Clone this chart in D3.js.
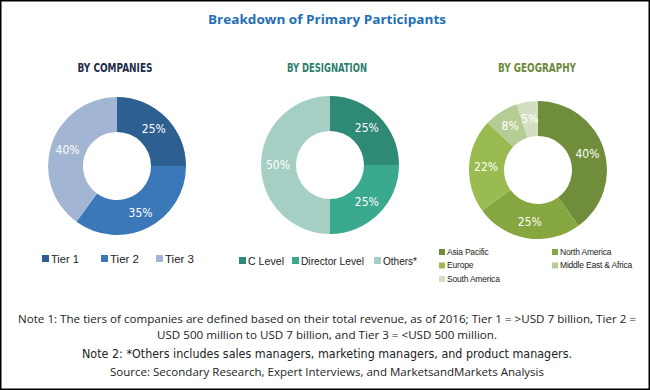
<!DOCTYPE html>
<html>
<head>
<meta charset="utf-8">
<script src="https://cdn.jsdelivr.net/npm/d3@7"></script>
<style>
  body { margin: 0; background: #fff; }
  svg { display: block; }
</style>
</head>
<body>
<div id="chart"></div>
<script>
// data
const companyLabels = ['Tier 1', 'Tier 2', 'Tier 3'];
const companyValues = [25, 35, 40];
const companyColors = ['#2e5f91', '#3a78ba', '#a2b6d4'];

const designationLabels = ['C Level', 'Director Level', 'Others*'];
const designationValues = [25, 25, 50];
const designationColors = ['#2e8a74', '#3aa98e', '#a5cfc4'];

const geoLabels = ['Asia Pacific', 'North America', 'Europe', 'Middle East & Africa', 'South America'];
const geoValues = [40, 25, 22, 8, 5];
const geoColors = ['#6f8d3a', '#86a640', '#9abb4f', '#b6cc95', '#d3dfc2'];

const notes = [
  'Note 1: The tiers of companies are defined based on their total revenue, as of 2016; Tier 1 = >USD 7 billion, Tier 2 =',
  'USD 500 million to USD 7 billion, and Tier 3 = <USD 500 million.'
];
const note2 = 'Note 2: *Others includes sales managers, marketing managers, and product managers.';
const source = 'Source: Secondary Research, Expert Interviews, and MarketsandMarkets Analysis';

const W = 650, H = 390;
const narrow = '"Liberation Sans Narrow", "DejaVu Sans Condensed", "Liberation Sans", sans-serif';
const svg = d3.select('#chart').append('svg').attr('width', W).attr('height', H);

svg.append('rect').attr('x', 0.75).attr('y', 0.75).attr('width', W - 1.5).attr('height', H - 1.5)
  .attr('fill', '#fff').attr('stroke', '#000').attr('stroke-width', 1.5);

svg.append('text').attr('x', 327).attr('y', 24).attr('text-anchor', 'middle')
  .attr('font-family', '"Open Sans", sans-serif').attr('font-weight', 'bold').attr('font-size', 13)
  .attr('textLength', 238).attr('lengthAdjust', 'spacingAndGlyphs')
  .attr('fill', '#1f6fb5').text('Breakdown of Primary Participants');

const pie = d3.pie().sort(null).value(d => d);
const arc = d3.arc().innerRadius(34).outerRadius(69);
const labelArc = d3.arc().innerRadius(52).outerRadius(52);

function donut(cx, cy, title, titleColor, titleX, titleW, values, colors) {
  svg.append('text').attr('x', titleX).attr('y', 72).attr('text-anchor', 'middle')
    .attr('font-family', narrow).attr('font-weight', 'bold').attr('font-size', 12.5)
    .attr('textLength', titleW).attr('lengthAdjust', 'spacingAndGlyphs')
    .attr('fill', titleColor).text(title);
  const g = svg.append('g').attr('transform', `translate(${cx},${cy})`);
  const arcs = pie(values);
  g.selectAll('path').data(arcs).join('path')
    .attr('d', arc).attr('fill', (d, i) => colors[i]);
  g.selectAll('text').data(arcs).join('text')
    .attr('transform', d => `translate(${labelArc.centroid(d)})`)
    .attr('text-anchor', 'middle').attr('dy', '0.35em')
    .attr('font-family', narrow).attr('font-size', 12)
    .attr('fill', '#fff').text(d => d.data + '%');
}

donut(117, 166, 'BY COMPANIES', '#1f2d4a', 115, 75, companyValues, companyColors);
donut(330, 165, 'BY DESIGNATION', '#2e7f6f', 327, 80, designationValues, designationColors);
donut(538, 170, 'BY GEOGRAPHY', '#6b8a3a', 537, 78, geoValues, geoColors);

// legends
function rowLegend(labels, colors, xs, widths, y) {
  const g = svg.append('g');
  labels.forEach((l, i) => {
    g.append('rect').attr('x', xs[i]).attr('y', y - 4).attr('width', 7).attr('height', 7).attr('fill', colors[i]);
    g.append('text').attr('x', xs[i] + 9).attr('y', y).attr('dy', '0.35em')
      .attr('font-family', '"Liberation Sans", Arial, sans-serif').attr('font-size', 11.5)
      .attr('textLength', widths[i]).attr('lengthAdjust', 'spacingAndGlyphs')
      .attr('fill', '#222').text(l);
  });
}
rowLegend(companyLabels, companyColors, [42, 101, 156], [28, 29, 29], 259);
rowLegend(designationLabels, designationColors, [239, 292, 374], [36, 63, 34], 261);

const geoLeg = svg.append('g');
geoLabels.forEach((l, i) => {
  const x = i % 2 === 0 ? 439 : 552;
  const y = 252 + Math.floor(i / 2) * 13.5;
  geoLeg.append('rect').attr('x', x).attr('y', y - 3).attr('width', 6).attr('height', 6).attr('fill', geoColors[i]);
  geoLeg.append('text').attr('x', x + 8).attr('y', y).attr('dy', '0.35em')
    .attr('font-family', '"Liberation Sans", Arial, sans-serif').attr('font-size', 8.5)
    .attr('letter-spacing', -0.2).attr('fill', '#222').text(l);
});

// notes
const noteFont = '"Open Sans", "Liberation Sans", sans-serif';
svg.append('text').attr('x', 327).attr('y', 323).attr('text-anchor', 'middle')
  .attr('font-family', noteFont).attr('font-size', 11.5).attr('fill', '#222')
  .attr('textLength', 618).attr('lengthAdjust', 'spacingAndGlyphs').text(notes[0]);
svg.append('text').attr('x', 327).attr('y', 339).attr('text-anchor', 'middle')
  .attr('font-family', noteFont).attr('font-size', 11.5).attr('fill', '#222')
  .attr('textLength', 340).attr('lengthAdjust', 'spacingAndGlyphs').text(notes[1]);
svg.append('text').attr('x', 327).attr('y', 358).attr('text-anchor', 'middle')
  .attr('font-family', narrow).attr('font-size', 13).attr('fill', '#222')
  .attr('textLength', 490).attr('lengthAdjust', 'spacingAndGlyphs').text(note2);
svg.append('text').attr('x', 327).attr('y', 376).attr('text-anchor', 'middle')
  .attr('font-family', noteFont).attr('font-size', 11.5).attr('fill', '#222')
  .attr('textLength', 434).attr('lengthAdjust', 'spacingAndGlyphs').text(source);
</script>
</body>
</html>
